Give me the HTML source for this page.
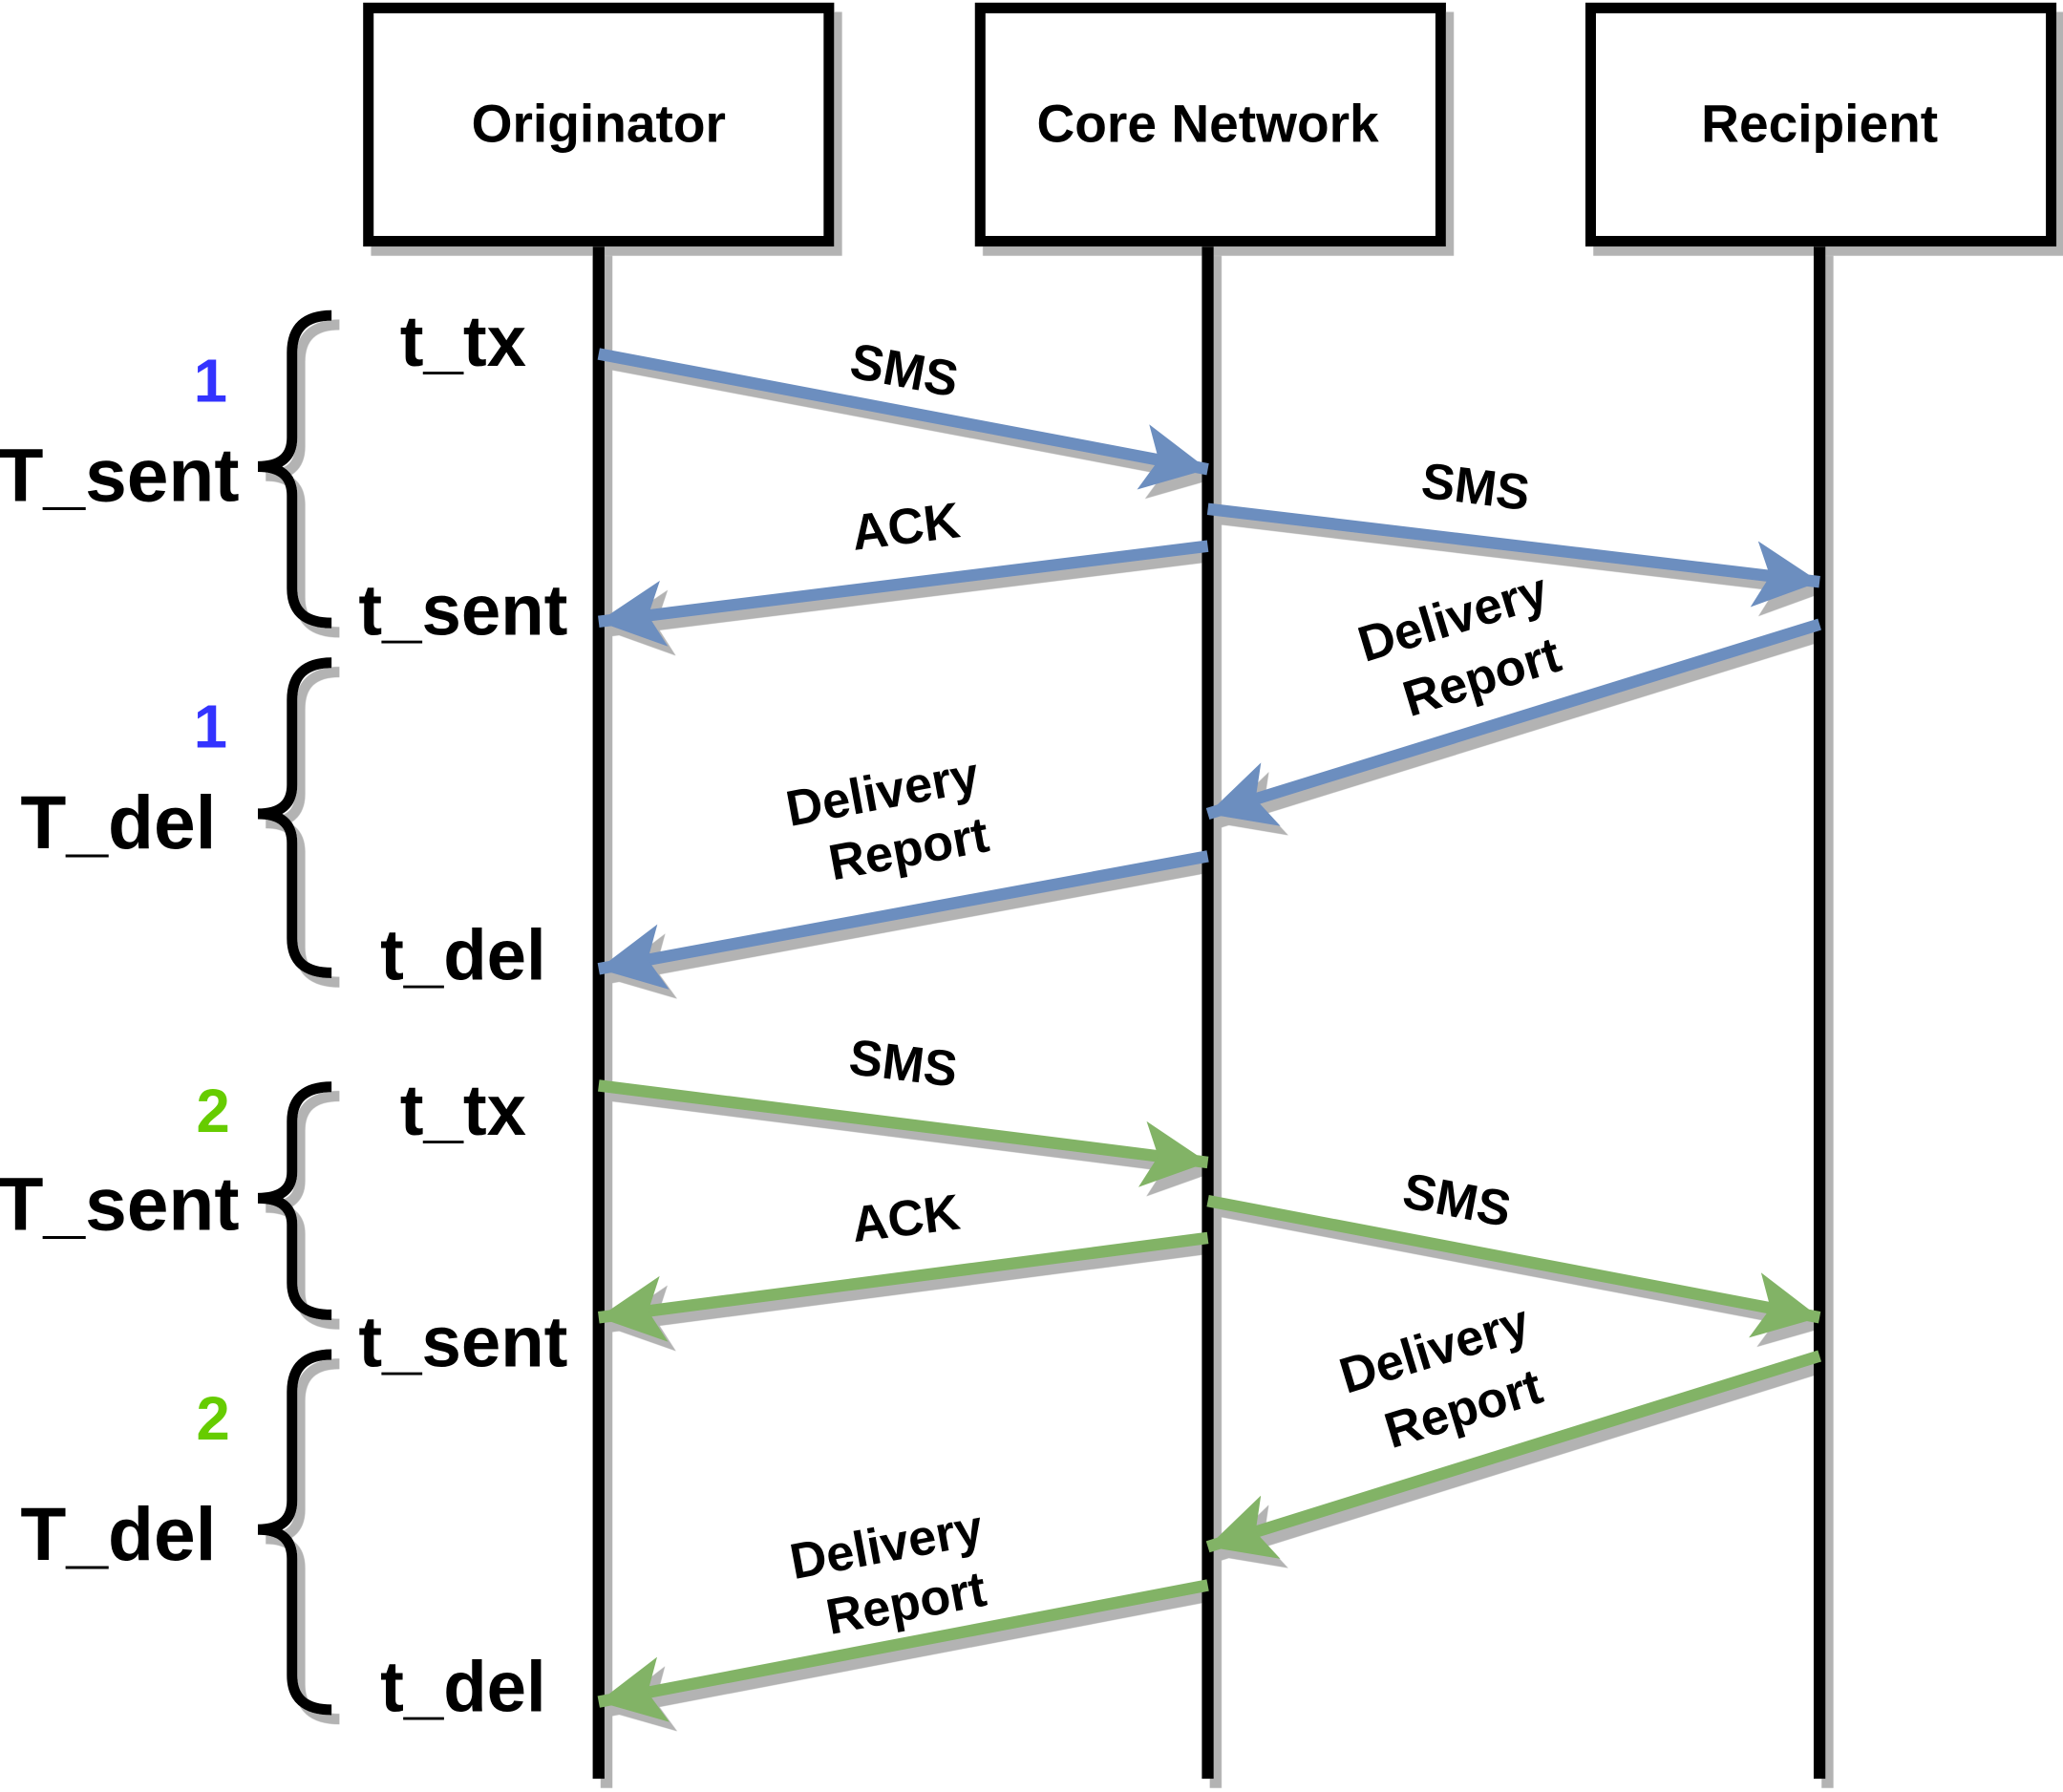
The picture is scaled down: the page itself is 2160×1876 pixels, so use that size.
<!DOCTYPE html>
<html><head><meta charset="utf-8"><style>
html,body{margin:0;padding:0;background:#fff;}
svg{display:block;}
text{font-family:"Liberation Sans",sans-serif;font-weight:bold;fill:#000;}
</style></head><body>
<svg width="2160" height="1876" viewBox="0 0 1568 1352" preserveAspectRatio="none" xmlns="http://www.w3.org/2000/svg">
<defs>
<filter id="sh" x="-10%" y="-10%" width="130%" height="130%">
<feDropShadow dx="6" dy="7" stdDeviation="0" flood-color="#b3b3b3" flood-opacity="1"/>
</filter>
<marker id="hb" markerUnits="userSpaceOnUse" markerWidth="60" markerHeight="60" refX="50" refY="25" orient="auto">
<path d="M0,0 L50,25 L0,50 L12,25 Z" fill="#6c8ebf"/></marker>
<marker id="hg" markerUnits="userSpaceOnUse" markerWidth="60" markerHeight="60" refX="50" refY="25" orient="auto">
<path d="M0,0 L50,25 L0,50 L12,25 Z" fill="#82b366"/></marker>
</defs>
<g filter="url(#sh)">
<rect x="280" y="6" width="350" height="176" fill="#fff" stroke="#000" stroke-width="8"/>
<rect x="745" y="6" width="350" height="176" fill="#fff" stroke="#000" stroke-width="8"/>
<rect x="1209" y="6" width="350" height="176" fill="#fff" stroke="#000" stroke-width="8"/>
<line x1="455" y1="186" x2="455" y2="1342" stroke="#000" stroke-width="9"/>
<line x1="918" y1="186" x2="918" y2="1342" stroke="#000" stroke-width="9"/>
<line x1="1383" y1="186" x2="1383" y2="1342" stroke="#000" stroke-width="9"/>
<g fill="none" stroke="#000" stroke-width="8">
<path d="M252,238 Q222,238 222,266 L222,330 Q222,352 196,352 Q222,352 222,374 L222,444 Q222,470 252,470"/>
<path d="M252,500 Q222,500 222,528 L222,592 Q222,614 196,614 Q222,614 222,636 L222,708 Q222,734 252,734"/>
<path d="M252,820 Q222,820 222,846 L222,884 Q222,904 196,904 Q222,904 222,924 L222,968 Q222,992 252,992"/>
<path d="M252,1022 Q222,1022 222,1050 L222,1132 Q222,1154 196,1154 Q222,1154 222,1176 L222,1264 Q222,1290 252,1290"/>
</g>
<g stroke-width="9" fill="none">
<line x1="455" y1="267" x2="918" y2="354" stroke="#6c8ebf" marker-end="url(#hb)"/>
<line x1="918" y1="384" x2="1383" y2="439" stroke="#6c8ebf" marker-end="url(#hb)"/>
<line x1="918" y1="412" x2="455" y2="469" stroke="#6c8ebf" marker-end="url(#hb)"/>
<line x1="1383" y1="471" x2="918" y2="614" stroke="#6c8ebf" marker-end="url(#hb)"/>
<line x1="918" y1="646" x2="455" y2="731" stroke="#6c8ebf" marker-end="url(#hb)"/>
<line x1="455" y1="819" x2="918" y2="877" stroke="#82b366" marker-end="url(#hg)"/>
<line x1="918" y1="906" x2="1383" y2="994" stroke="#82b366" marker-end="url(#hg)"/>
<line x1="918" y1="934" x2="455" y2="994" stroke="#82b366" marker-end="url(#hg)"/>
<line x1="1383" y1="1023" x2="918" y2="1167" stroke="#82b366" marker-end="url(#hg)"/>
<line x1="918" y1="1196" x2="455" y2="1284" stroke="#82b366" marker-end="url(#hg)"/>
</g>
</g>
<g font-size="40" text-anchor="middle">
<text x="455" y="107">Originator</text>
<text x="918" y="107">Core Network</text>
<text x="1383" y="107">Recipient</text>
</g>
<g font-size="38" text-anchor="middle">
<text transform="translate(685,292) rotate(10.6)">SMS</text>
<text transform="translate(1120,380) rotate(7)">SMS</text>
<text transform="translate(690,410) rotate(-7)">ACK</text>
<text transform="translate(1108,478) rotate(-17)">Delivery</text>
<text transform="translate(1130,523) rotate(-17)">Report</text>
<text transform="translate(673,610) rotate(-10.5)">Delivery</text>
<text transform="translate(693,653) rotate(-10.5)">Report</text>
<text transform="translate(685,815) rotate(7)">SMS</text>
<text transform="translate(1105,918) rotate(10.7)">SMS</text>
<text transform="translate(690,932) rotate(-7)">ACK</text>
<text transform="translate(1094,1030) rotate(-17)">Delivery</text>
<text transform="translate(1116,1075) rotate(-17)">Report</text>
<text transform="translate(676,1178) rotate(-10.5)">Delivery</text>
<text transform="translate(691,1222) rotate(-10.5)">Report</text>
</g>
<g font-size="54" text-anchor="middle">
<text x="352" y="276">t_tx</text>
<text x="352" y="479">t_sent</text>
<text x="352" y="739">t_del</text>
<text x="352" y="856">t_tx</text>
<text x="352" y="1031">t_sent</text>
<text x="352" y="1291">t_del</text>
</g>
<g font-size="57" text-anchor="middle">
<text x="90" y="378">T_sent</text>
<text x="90" y="640">T_del</text>
<text x="90" y="928">T_sent</text>
<text x="90" y="1177">T_del</text>
</g>
<g font-size="46" text-anchor="middle">
<text x="160" y="303" style="fill:#3333ff">1</text>
<text x="160" y="564" style="fill:#3333ff">1</text>
<text x="162" y="854" style="fill:#66cc00">2</text>
<text x="162" y="1086" style="fill:#66cc00">2</text>
</g>
</svg>
</body></html>
